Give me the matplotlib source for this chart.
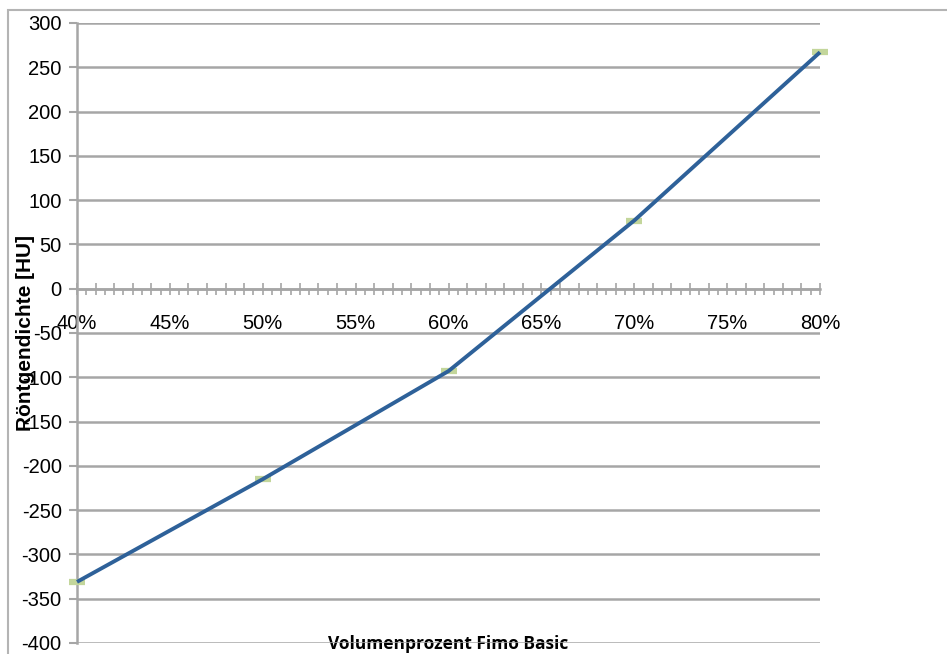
import matplotlib.pyplot as plt
from matplotlib.patches import Rectangle
from matplotlib.ticker import MultipleLocator, FuncFormatter

# Röntgendichte in Abhängigkeit vom Volumenanteil Fimo Basic
volume_pct = [0.40, 0.50, 0.60, 0.70, 0.80]
density_hu = [-331, -215, -93, 77, 267]

line_col = "#2e6199"
marker_col = "#c3d69b"
grid_col = "#a6a6a6"

plt.rcParams['font.family'] = ['Liberation Sans', 'DejaVu Sans']
plt.rcParams['axes.unicode_minus'] = False

fig = plt.figure(figsize=(9.47, 6.54), dpi=100)
ax = fig.add_axes([77 / 947, 11 / 654, 743 / 947, 620 / 654])

# outer frame of the chart object
fig.patches.append(Rectangle((8 / 947, -0.1), 1.2, (654 - 10) / 654 + 0.1,
                             transform=fig.transFigure, fill=False,
                             edgecolor="#b4b4b4", linewidth=1.5, zorder=0))

ax.plot(volume_pct, density_hu, linestyle='none', marker='_', markersize=12,
        markeredgewidth=4.5, color=marker_col, zorder=3, clip_on=False)
ax.plot(volume_pct, density_hu, color=line_col, linewidth=2.8, zorder=4,
        clip_on=False, solid_capstyle='butt')

ax.set_xlim(0.40, 0.80)
ax.set_ylim(-400, 300)

ax.yaxis.set_major_locator(MultipleLocator(50))
ax.grid(axis='y', color=grid_col, linewidth=1.8)
ax.set_axisbelow(True)

for side in ('top', 'right'):
    ax.spines[side].set_visible(False)
ax.spines['left'].set_color(grid_col)
ax.spines['left'].set_linewidth(1.8)
ax.spines['bottom'].set_position(('data', 0))
ax.spines['bottom'].set_color(grid_col)
ax.spines['bottom'].set_linewidth(1.8)

ax.xaxis.set_major_locator(MultipleLocator(0.01))
ax.xaxis.set_minor_locator(MultipleLocator(0.005))
ax.xaxis.set_major_formatter(FuncFormatter(
    lambda v, pos: f"{round(v * 100)}%" if round(v * 1000) % 50 == 0 else ""))

ax.tick_params(axis='y', which='major', direction='out', length=6, width=1.5,
               color=grid_col, labelsize=14.5, pad=5, labelcolor='black')
ax.tick_params(axis='x', which='major', direction='inout', length=8, width=1.2,
               color=grid_col, labelsize=14.5, pad=14, labelcolor='black')
ax.tick_params(axis='x', which='minor', direction='out', length=4, width=1.2,
               color=grid_col)

ax.set_ylabel("Röntgendichte [HU]", fontsize=15, fontweight='bold')
ax.yaxis.set_label_coords(-42 / 743, 0.5)
ax.set_xlabel("Volumenprozent Fimo Basic", fontsize=12.5, fontweight='bold',
              family=['Open Sans', 'DejaVu Sans'], va='center')
ax.xaxis.set_label_coords(0.5, -1 / 620)

fig.savefig("out.png", dpi=100)
